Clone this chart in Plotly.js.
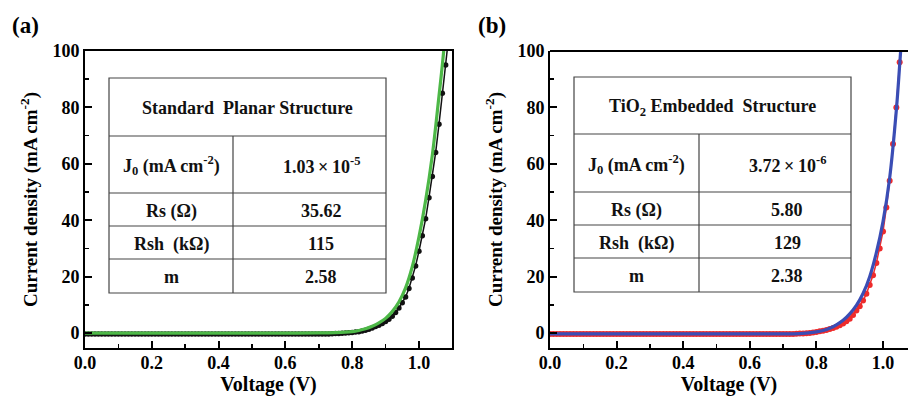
<!DOCTYPE html>
<html><head><meta charset="utf-8">
<script src="https://cdn.plot.ly/plotly-3.0.1.min.js"></script>
<style>html,body{margin:0;padding:0;background:#fff}</style>
</head><body>
<div id="chart" style="width:908px;height:396px"></div>
<script>
// ---------- data ----------
const voltageA = [0,0.01,0.02,0.03,0.04,0.05,0.06,0.07,0.08,0.09,0.10,0.11,0.12,0.13,0.14,0.15,0.16,0.17,0.18,0.19,0.20,0.21,0.22,0.23,0.24,0.25,0.26,0.27,0.28,0.29,0.30,0.31,0.32,0.33,0.34,0.35,0.36,0.37,0.38,0.39,0.40,0.41,0.42,0.43,0.44,0.45,0.46,0.47,0.48,0.49,0.50,0.51,0.52,0.53,0.54,0.55,0.56,0.57,0.58,0.59,0.60,0.61,0.62,0.63,0.64,0.65,0.66,0.67,0.68,0.69,0.70,0.71,0.72,0.73,0.74,0.75,0.76,0.77,0.78,0.79,0.80,0.81,0.82,0.83,0.84,0.85,0.86,0.87,0.88,0.89,0.90,0.91,0.92,0.93,0.94,0.95,0.96,0.97,0.98,0.99,1.00,1.01,1.02,1.03,1.04,1.05,1.06,1.07,1.08,1.09];
const currentA = [-0.3,-0.3,-0.3,-0.3,-0.3,-0.3,-0.3,-0.3,-0.3,-0.3,-0.3,-0.3,-0.3,-0.3,-0.3,-0.3,-0.3,-0.3,-0.3,-0.3,-0.3,-0.3,-0.3,-0.3,-0.3,-0.3,-0.3,-0.3,-0.3,-0.3,-0.3,-0.3,-0.3,-0.3,-0.3,-0.3,-0.3,-0.3,-0.3,-0.3,-0.3,-0.3,-0.3,-0.3,-0.3,-0.3,-0.3,-0.3,-0.3,-0.3,-0.3,-0.3,-0.3,-0.3,-0.3,-0.3,-0.3,-0.3,-0.3,-0.3,-0.3,-0.3,-0.3,-0.3,-0.3,-0.3,-0.3,-0.3,-0.3,-0.3,-0.3,-0.3,-0.3,-0.3,-0.25,-0.2,-0.15,-0.1,0,0.1,0.2,0.35,0.5,0.75,1.0,1.35,1.8,2.3,2.8,3.4,4.1,4.9,6.0,7.3,8.9,10.7,12.8,15.8,19.5,23.8,29,34.5,40.5,48,55.5,64,74,85,95,106];
const fitVoltageA = [0,0.1,0.2,0.3,0.4,0.5,0.6,0.7,0.75,0.78,0.80,0.82,0.84,0.86,0.88,0.90,0.92,0.94,0.96,0.98,1.00,1.02,1.04,1.06,1.07,1.08];
const fitCurrentA = [0,0,0,0,0,0,0,0.05,0.15,0.3,0.5,0.9,1.5,2.4,3.6,5.2,7.6,11.0,16.0,23.5,34,47,63,84,95,107];

const voltageB = [0,0.01,0.02,0.03,0.04,0.05,0.06,0.07,0.08,0.09,0.10,0.11,0.12,0.13,0.14,0.15,0.16,0.17,0.18,0.19,0.20,0.21,0.22,0.23,0.24,0.25,0.26,0.27,0.28,0.29,0.30,0.31,0.32,0.33,0.34,0.35,0.36,0.37,0.38,0.39,0.40,0.41,0.42,0.43,0.44,0.45,0.46,0.47,0.48,0.49,0.50,0.51,0.52,0.53,0.54,0.55,0.56,0.57,0.58,0.59,0.60,0.61,0.62,0.63,0.64,0.65,0.66,0.67,0.68,0.69,0.70,0.71,0.72,0.73,0.74,0.75,0.76,0.77,0.78,0.79,0.80,0.81,0.82,0.83,0.84,0.85,0.86,0.87,0.88,0.89,0.90,0.91,0.92,0.93,0.94,0.95,0.96,0.97,0.98,0.99,1.00,1.01,1.02,1.03,1.04,1.05,1.06];
const currentB = [-0.3,-0.3,-0.3,-0.3,-0.3,-0.3,-0.3,-0.3,-0.3,-0.3,-0.3,-0.3,-0.3,-0.3,-0.3,-0.3,-0.3,-0.3,-0.3,-0.3,-0.3,-0.3,-0.3,-0.3,-0.3,-0.3,-0.3,-0.3,-0.3,-0.3,-0.3,-0.3,-0.3,-0.3,-0.3,-0.3,-0.3,-0.3,-0.3,-0.3,-0.3,-0.3,-0.3,-0.3,-0.3,-0.3,-0.3,-0.3,-0.3,-0.3,-0.3,-0.3,-0.3,-0.3,-0.3,-0.3,-0.3,-0.3,-0.3,-0.3,-0.3,-0.3,-0.3,-0.3,-0.3,-0.3,-0.3,-0.3,-0.3,-0.3,-0.3,-0.3,-0.3,-0.3,-0.25,-0.2,-0.2,-0.1,0,0.2,0.4,0.6,0.8,1.1,1.4,1.8,2.2,2.8,3.4,4.2,5.1,6.4,8.0,9.5,11.5,13.9,17.0,20.5,24.8,30,36,44.5,54,67,80,96,112];
const fitVoltageB = [0,0.1,0.2,0.3,0.4,0.5,0.6,0.7,0.75,0.80,0.82,0.84,0.86,0.88,0.90,0.92,0.94,0.96,0.98,1.00,1.02,1.04,1.05,1.06];
const fitCurrentB = [-0.3,-0.3,-0.3,-0.3,-0.3,-0.3,-0.3,-0.3,-0.2,0.4,0.9,1.7,2.9,4.5,6.8,9.8,14,20,28.5,39.5,55,79,95,112];

const xTickVals = [0,0.2,0.4,0.6,0.8,1.0];
const xTickText = ["0.0","0.2","0.4","0.6","0.8","1.0"];
const yTickVals = [0,20,40,60,80,100];

const tableRowLabels = ["J<sub>0</sub>\u00A0(mA cm<sup>-2</sup>)", "Rs (\u03A9)", "Rsh\u00A0 (k\u03A9)", "m"];
const tableValuesA = ["1.03\u2009\u00D7\u200910<sup>-5</sup>", "35.62", "115", "2.58"];
const tableValuesB = ["3.72\u2009\u00D7\u200910<sup>-6</sup>", "5.80", "129", "2.38"];
const tableTitleA = "Standard\u00A0 Planar Structure";
const tableTitleB = "TiO<sub>2</sub> Embedded\u00A0 Structure";
const panelLabels = ["(a)", "(b)"];

// ---------- layout helpers ----------
const W = 908, H = 396;
const px = x => x / W;
const py = y => 1 - y / H;
const FONT = '"Liberation Serif"';

const traces = [
  {x: voltageA, y: currentA, xaxis: 'x', yaxis: 'y', mode: 'lines+markers', type: 'scatter',
   line: {color: '#111', width: 1.5}, marker: {color: '#111', size: 5.5}},
  {x: fitVoltageA, y: fitCurrentA, xaxis: 'x', yaxis: 'y', mode: 'lines', type: 'scatter',
   line: {color: '#4db847', width: 3.2, shape: 'spline'}},
  {x: voltageB, y: currentB, xaxis: 'x2', yaxis: 'y2', mode: 'lines+markers', type: 'scatter',
   line: {color: '#ee2b2b', width: 1.5}, marker: {color: '#ee2b2b', size: 6}},
  {x: fitVoltageB, y: fitCurrentB, xaxis: 'x2', yaxis: 'y2', mode: 'lines', type: 'scatter',
   line: {color: '#3a4db5', width: 3.2, shape: 'spline'}}
];

function xAxis(domain, range, mirror) {
  return {
    domain: domain, range: range, showline: true, linecolor: '#000', linewidth: 2, mirror: mirror,
    ticks: 'inside', ticklen: 7, tickwidth: 2, tickcolor: '#000', ticklabelstandoff: -3,
    tickmode: 'array', tickvals: xTickVals, ticktext: xTickText,
    minor: {ticks: 'inside', ticklen: 4, tickwidth: 1.5, tickcolor: '#000', tickvals: [0.1,0.3,0.5,0.7,0.9]},
    showgrid: false, zeroline: false, fixedrange: true,
    tickfont: {family: FONT, size: 18, color: '#000', weight: 'bold'},
    title: {text: 'Voltage (V)', font: {family: FONT, size: 20, color: '#000', weight: 'bold'}, standoff: 2}
  };
}
function yAxis(domain, anchor, mirror) {
  return {
    domain: domain, range: [-5.3, 100], anchor: anchor, showline: true, linecolor: '#000', linewidth: 2, mirror: mirror,
    ticks: 'inside', ticklen: 7, tickwidth: 2, tickcolor: '#000',
    tickmode: 'array', tickvals: yTickVals,
    minor: {ticks: 'inside', ticklen: 4, tickwidth: 1.5, tickcolor: '#000', tickvals: [10,30,50,70,90]},
    showgrid: false, zeroline: false, fixedrange: true,
    tickfont: {family: FONT, size: 18, color: '#000', weight: 'bold'},
    title: {text: 'Current density (mA cm<sup>-2</sup>)', font: {family: FONT, size: 19, color: '#000', weight: 'bold'}, standoff: 10}
  };
}

const yDom = [py(348), py(51)];
const layout = {
  width: W, height: H, margin: {l: 0, r: 0, t: 0, b: 0}, showlegend: false,
  paper_bgcolor: '#fff', plot_bgcolor: '#fff',
  font: {family: FONT, color: '#000'},
  xaxis: Object.assign(xAxis([px(85), px(452)], [0, 1.099], true), {anchor: 'y'}),
  yaxis: yAxis(yDom, 'x', true),
  xaxis2: Object.assign(xAxis([px(550), 1], [0, 1.075], false), {anchor: 'y2'}),
  yaxis2: yAxis(yDom, 'x2', false),
  shapes: [], annotations: []
};

// top border for panel (b)
layout.shapes.push({type: 'line', xref: 'paper', yref: 'paper', x0: px(550), x1: 1, y0: py(51), y1: py(51),
  line: {color: '#000', width: 2}});

// tables
const tables = [
  {l: 109, r: 386, t: 78, b: 293, rows: [136, 193, 226, 259], col: 233, labelX: 171, valueX: 321,
   titleY: 108, rowY: [166, 211, 244, 277], title: tableTitleA, values: tableValuesA},
  {l: 574, r: 851, t: 77, b: 292, rows: [134, 192, 225, 258], col: 699, labelX: 636, valueX: 787,
   titleY: 107, rowY: [164, 210, 243, 276], title: tableTitleB, values: tableValuesB}
];
const tline = {color: '#444', width: 1.2};
tables.forEach(tb => {
  layout.shapes.push({type: 'rect', xref: 'paper', yref: 'paper', x0: px(tb.l), x1: px(tb.r), y0: py(tb.b), y1: py(tb.t), line: tline});
  tb.rows.forEach(r => layout.shapes.push({type: 'line', xref: 'paper', yref: 'paper', x0: px(tb.l), x1: px(tb.r), y0: py(r), y1: py(r), line: tline}));
  layout.shapes.push({type: 'line', xref: 'paper', yref: 'paper', x0: px(tb.col), x1: px(tb.col), y0: py(tb.b), y1: py(tb.rows[0]), line: tline});
  const f = {family: FONT, size: 18, color: '#111', weight: 'bold'};
  layout.annotations.push({xref: 'paper', yref: 'paper', x: px((tb.l + tb.r) / 2), y: py(tb.titleY), text: tb.title,
    showarrow: false, xanchor: 'center', yanchor: 'middle', font: f});
  tableRowLabels.forEach((lab, i) => {
    layout.annotations.push({xref: 'paper', yref: 'paper', x: px(tb.labelX), y: py(tb.rowY[i]), text: lab,
      showarrow: false, xanchor: 'center', yanchor: 'middle', font: f});
    layout.annotations.push({xref: 'paper', yref: 'paper', x: px(tb.valueX), y: py(tb.rowY[i]), text: tb.values[i],
      showarrow: false, xanchor: 'center', yanchor: 'middle', font: f});
  });
});

// panel labels
[[25, 25], [492, 26]].forEach((p, i) => layout.annotations.push({xref: 'paper', yref: 'paper', x: px(p[0]), y: py(p[1]),
  text: panelLabels[i], showarrow: false, xanchor: 'center', yanchor: 'middle',
  font: {family: FONT, size: 23, color: '#000', weight: 'bold'}}));

Plotly.newPlot('chart', traces, layout, {staticPlot: true, displayModeBar: false});
</script>
</body></html>
